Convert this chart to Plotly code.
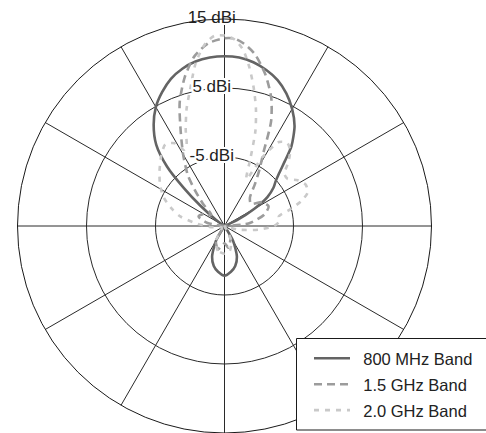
import plotly.graph_objects as go

# Radiation patterns: gain in dBi versus azimuth in degrees (0 = boresight, clockwise)
theta_800 = [-180, -172, -165, -158, -150, -145, -60, -54, -50, -47, -44, -40, -35, -30, -25, -20,
             -15, -10, -5, 0, 5, 10, 15, 20, 25, 30, 35, 40, 43, 46, 49, 52, 56, 60, 65, 70,
             145, 150, 158, 165, 172, 180]
gain_800 = [-7.8, -8.3, -9.0, -10.2, -12.5, -15, -15, -13.5, -10.5, -7.0, -3.0, 0.4, 2.9, 4.9, 6.4,
            7.7, 8.6, 9.2, 9.5, 9.6, 9.5, 9.1, 8.4, 7.5, 6.2, 4.6, 2.7, 0.1, -2.2, -4.0, -5.2,
            -6.0, -7.5, -10, -13, -15, -15, -12.5, -10.2, -9.0, -8.3, -7.8]

theta_1500 = [-180, -165, -150, -135, -100, -80, -70, -60, -50, -44, -40, -36, -33, -30, -25, -20,
              -15, -10, -5, 0, 3, 6, 10, 15, 20, 24, 28, 32, 36, 42, 50, 58, 66, 74, 84, 100,
              140, 155, 170, 180]
gain_1500 = [-12.5, -11.5, -12.5, -15, -15, -12.5, -11, -11.5, -12.5, -10.5, -8.5, -6.0, -4.6,
             -3.0, 0.0, 4.0, 7.3, 10.0, 11.6, 12.2, 12.2, 11.6, 10.3, 7.8, 4.8, 1.6, -3.0, -5.5,
             -7.5, -9.5, -10, -8.5, -8.0, -9.0, -11.5, -15, -15, -13, -11.8, -12.5]

theta_2000 = [-180, -165, -150, -130, -110, -95, -85, -78, -72, -65, -58, -50, -42, -36, -31, -28,
              -25, -22, -18, -14, -10, -6, -3, 0, 3, 6, 9, 12, 15, 18, 21, 25, 29, 33, 37, 41,
              45, 49, 53, 58, 63, 68, 72, 76, 80, 85, 90, 96, 105, 120, 140, 155, 168, 180]
gain_2000 = [-11, -11.3, -12.5, -14.5, -14.5, -13, -11, -8.5, -7.0, -5.3, -4.0, -2.7, -1.3, -0.4,
             -1.0, -2.5, -2.0, 0.0, 2.8, 5.5, 9.0, 11.6, 12.6, 12.6, 12.1, 10.7, 8.2, 5.4, 2.6,
             -0.5, -4.5, -7.5, -3.5, -0.5, 0.1, -0.5, -1.9, -3.5, -3.6, -2.5, -1.8, -2.0, -3.3,
             -5.3, -7.0, -7.0, -7.8, -10, -13, -15, -15, -12.8, -11.3, -11]

series = [
    ("800 MHz Band", theta_800, gain_800, "#646464", "solid"),
    ("1.5 GHz Band", theta_1500, gain_1500, "#9c9c9c", "8px,5px"),
    ("2.0 GHz Band", theta_2000, gain_2000, "#c9c9c9", "5px,6px"),
]

ring_values = [-5, 5, 15]
ring_labels = ["-5 dBi", "5 dBi", "15 dBi"]

fig = go.Figure()

for name, th, g, color, dash in series:
    fig.add_trace(go.Scatterpolar(
        r=g, theta=th, mode="lines", name="\u2002" + name, legendgroup=name,
        line=dict(color=color, width=2.6, dash=dash, shape="spline", smoothing=0.7),
        hoverinfo="skip",
    ))

# white halo around the ring labels so the grid lines break behind the glyphs
halo = ", ".join(f"{dx}px {dy}px 0 white" for dx in (-2, -1, 0, 1, 2) for dy in (-2, -1, 0, 1, 2))
fig.add_trace(go.Scatterpolar(
    r=ring_values, theta=[0] * len(ring_values), mode="text",
    text=[t + "\u2003\u2002" for t in ring_labels], textposition="middle center",
    textfont=dict(family="Liberation Sans, Arial, sans-serif", size=17, color="#222222",
                  shadow=halo),
    showlegend=False, hoverinfo="skip",
))

W, H = 486, 433
R = 207
cx, top = 224.5, 19

fig.update_layout(
    width=W, height=H,
    margin=dict(l=0, r=0, t=0, b=0),
    paper_bgcolor="white",
    font=dict(family="Liberation Sans, Arial, sans-serif", color="#222222"),
    polar=dict(
        domain=dict(x=[(cx - R) / W, (cx + R) / W], y=[0, 1 - top / H]),
        bgcolor="white",
        radialaxis=dict(range=[-15, 15], tickvals=ring_values, showticklabels=False,
                        ticks="", showline=False, gridcolor="#2a2a2a", gridwidth=1),
        angularaxis=dict(rotation=90, direction="clockwise", dtick=30, showticklabels=False,
                         ticks="", showline=True, linecolor="#1a1a1a", linewidth=1,
                         gridcolor="#2a2a2a", gridwidth=1),
    ),
    legend=dict(
        x=309 / W, y=1 - 341 / H, xanchor="left", yanchor="top",
        bgcolor="rgba(0,0,0,0)", borderwidth=0,
        font=dict(size=16.5, color="#222222"),
        itemwidth=36, tracegroupgap=1.5,
    ),
    shapes=[dict(type="rect", xref="paper", yref="paper",
                 x0=296.5 / W, x1=1.02, y0=1 - 430 / H, y1=1 - 338.5 / H,
                 fillcolor="white", line=dict(color="#1a1a1a", width=1), layer="above")],
)

fig.write_html("out.html")
